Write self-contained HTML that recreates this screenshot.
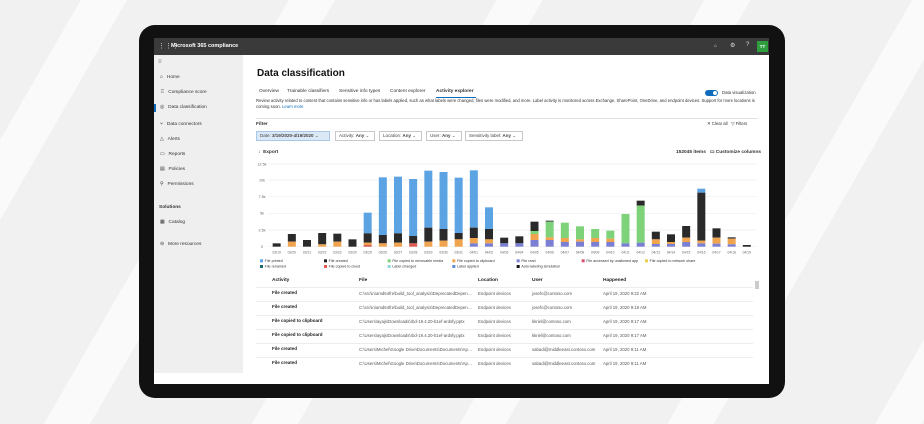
<!DOCTYPE html>
<html><head><meta charset="utf-8"><style>
*{margin:0;padding:0;box-sizing:border-box}
body{width:924px;height:424px;overflow:hidden;position:relative;font-family:"Liberation Sans",sans-serif;
background:repeating-linear-gradient(120deg,#f1f1f1 0 70px,#fafafa 70px 110px,#f1f1f1 110px 180px);}
.a{position:absolute;white-space:nowrap}
.dev{left:139px;top:25px;width:646px;height:373px;background:#111;border-radius:16px}
.scr{left:154px;top:38px;width:615px;height:346px;background:#fff;overflow:hidden}
.top{left:0;top:0;width:615px;height:17px;background:#3a3a3a}
.side{left:0;top:17px;width:89px;height:318px;background:#efefef}
.s{font-size:4.8px;color:#333}
.chip{height:10px;border:1px solid #c8c8c8;font-size:4.5px;line-height:8px;padding-left:3px;color:#444}
.th{font-size:4.8px;color:#222;font-weight:bold}
.td{font-size:4.3px;color:#555}
.fp{width:114px;overflow:hidden;text-overflow:ellipsis}
</style></head><body>
<div class="a dev"></div>
<div class="a scr">
 <div class="a top"></div>
 <div class="a" style="left:4px;top:4px;color:#ddd;font-size:7px">⋮⋮⋮</div>
 <div class="a" style="left:17px;top:5px;color:#fff;font-size:5.5px;font-weight:bold">Microsoft 365 compliance</div>
 <div class="a" style="left:560px;top:5px;color:#ddd;font-size:5px">⌂</div>
 <div class="a" style="left:576px;top:4px;color:#ddd;font-size:6px">⚙</div>
 <div class="a" style="left:592px;top:4px;color:#ddd;font-size:6px">?</div>
 <div class="a" style="left:603px;top:3px;width:11px;height:11px;background:#2e9e3f;color:#fff;font-size:4.5px;font-weight:bold;text-align:center;line-height:11px">TT</div>
 <div class="a side"></div>
 <div class="a s" style="left:4px;top:21px;font-size:6px;color:#777">≡</div>
 <div class="a s" style="left:6px;top:37px">⌂ &nbsp;&nbsp;Home</div>
 <div class="a s" style="left:6px;top:52px">♖ &nbsp;&nbsp;Compliance score</div>
 <div class="a" style="left:0;top:66px;width:1.5px;height:8px;background:#0f6cbd"></div>
 <div class="a s" style="left:6px;top:67px">◎ &nbsp;&nbsp;Data classification</div>
 <div class="a s" style="left:6px;top:83px">⑂ &nbsp;&nbsp;Data connectors</div>
 <div class="a s" style="left:6px;top:99px">△ &nbsp;&nbsp;Alerts</div>
 <div class="a s" style="left:6px;top:114px">▭ &nbsp;&nbsp;Reports</div>
 <div class="a s" style="left:6px;top:129px">▤ &nbsp;&nbsp;Policies</div>
 <div class="a s" style="left:6px;top:144px">⚲ &nbsp;&nbsp;Permissions</div>
 <div class="a s" style="left:5px;top:167px;font-weight:bold">Solutions</div>
 <div class="a s" style="left:6px;top:182px">▦ &nbsp;&nbsp;Catalog</div>
 <div class="a s" style="left:6px;top:204px">⊖ &nbsp;&nbsp;More resources</div>

 <div class="a" style="left:103px;top:30px;font-size:10px;font-weight:bold;color:#111">Data classification</div>
 <div class="a s" style="left:105px;top:51px">Overview</div>
 <div class="a s" style="left:133px;top:51px">Trainable classifiers</div>
 <div class="a s" style="left:185px;top:51px">Sensitive info types</div>
 <div class="a s" style="left:236px;top:51px">Content explorer</div>
 <div class="a s" style="left:282px;top:51px;font-weight:bold">Activity explorer</div>
 <div class="a" style="left:282px;top:59px;width:40px;height:1.2px;background:#0f6cbd"></div>
 <div class="a" style="left:551px;top:52px;width:13px;height:6px;border-radius:3px;background:#0f6cbd"></div>
 <div class="a" style="left:559px;top:53px;width:4px;height:4px;border-radius:2px;background:#fff"></div>
 <div class="a s" style="left:568px;top:52px;font-size:4.3px">Data visualization</div>
 <div class="a" style="left:102px;top:60px;font-size:4.2px;color:#333;line-height:5.5px;width:508px;white-space:normal">Review activity related to content that contains sensitive info or has labels applied, such as what labels were changed, files were modified, and more. Label activity is monitored across Exchange, SharePoint, OneDrive, and endpoint devices. Support for more locations is coming soon. <span style="color:#0f6cbd">Learn more</span></div>
 <div class="a" style="left:102px;top:80px;width:502px;height:1px;background:#e3e3e3"></div>
 <div class="a s" style="left:102px;top:84px;font-weight:bold">Filter</div>
 <div class="a s" style="left:553px;top:83px;font-size:4.3px">✕ Clear all &nbsp;&nbsp;▽ Filters</div>
 <div class="a chip" style="left:102px;top:93px;width:74px;background:#dbe9f7;border-color:#a9c8e8">Date: <b>3/19/2020-4/19/2020</b> ⌄</div>
 <div class="a chip" style="left:181px;top:93px;width:40px">Activity: <b>Any</b> ⌄</div>
 <div class="a chip" style="left:225px;top:93px;width:43px">Location: <b>Any</b> ⌄</div>
 <div class="a chip" style="left:272px;top:93px;width:36px">User: <b>Any</b> ⌄</div>
 <div class="a chip" style="left:311px;top:93px;width:58px">Sensitivity label: <b>Any</b> ⌄</div>
 <div class="a s" style="left:104px;top:112px;font-weight:bold">↓ &nbsp;Export</div>
 <div class="a s" style="left:522px;top:112px;font-weight:bold">152045 items &nbsp;&nbsp;▭ Customize columns</div>

 <div class="a th" style="left:118px;top:240px">Activity</div>
 <div class="a th" style="left:205px;top:240px">File</div>
 <div class="a th" style="left:324px;top:240px">Location</div>
 <div class="a th" style="left:378px;top:240px">User</div>
 <div class="a th" style="left:449px;top:240px">Happened</div>
 <div class="a" style="left:601px;top:243px;width:4px;height:8px;background:#ccc"></div>
</div>

<div class="a" style="left:256px;top:284px">
<div class="a" style="left:0;top:3px;width:497px;height:1px;background:#ececec"></div>
<div class="a th" style="left:16px;top:6px;font-size:4.5px">File created</div><div class="a td fp" style="left:103px;top:7px">C:\src\in\amd64fre\build_tool_analysis\DeprecatedDependencyRe...</div><div class="a td" style="left:222px;top:7px">Endpoint devices</div><div class="a td" style="left:276px;top:7px">josefc@contoso.com</div><div class="a td" style="left:347px;top:7px">April 19, 2020 9:22 AM</div>
<div class="a" style="left:0;top:17px;width:497px;height:1px;background:#ececec"></div>
<div class="a th" style="left:16px;top:20px;font-size:4.5px">File created</div><div class="a td fp" style="left:103px;top:21px">C:\src\in\amd64fre\build_tool_analysis\DeprecatedDependencyRe...</div><div class="a td" style="left:222px;top:21px">Endpoint devices</div><div class="a td" style="left:276px;top:21px">josefc@contoso.com</div><div class="a td" style="left:347px;top:21px">April 19, 2020 9:18 AM</div>
<div class="a" style="left:0;top:31px;width:497px;height:1px;background:#ececec"></div>
<div class="a th" style="left:16px;top:34px;font-size:4.5px">File copied to clipboard</div><div class="a td fp" style="left:103px;top:35px">C:\Users\ayajs\Downloads\rbd-19.4.20-b1ef-ardsfy.pptx</div><div class="a td" style="left:222px;top:35px">Endpoint devices</div><div class="a td" style="left:276px;top:35px">kkriel@contoso.com</div><div class="a td" style="left:347px;top:35px">April 19, 2020 9:17 AM</div>
<div class="a" style="left:0;top:45px;width:497px;height:1px;background:#ececec"></div>
<div class="a th" style="left:16px;top:48px;font-size:4.5px">File copied to clipboard</div><div class="a td fp" style="left:103px;top:49px">C:\Users\ayajs\Downloads\rbd-19.4.20-b1ef-ardsfy.pptx</div><div class="a td" style="left:222px;top:49px">Endpoint devices</div><div class="a td" style="left:276px;top:49px">kkriel@contoso.com</div><div class="a td" style="left:347px;top:49px">April 19, 2020 9:17 AM</div>
<div class="a" style="left:0;top:59px;width:497px;height:1px;background:#ececec"></div>
<div class="a th" style="left:16px;top:62px;font-size:4.5px">File created</div><div class="a td fp" style="left:103px;top:63px">C:\Users\Michel\Google Drive\Documents\Documents\Appartmen...</div><div class="a td" style="left:222px;top:63px">Endpoint devices</div><div class="a td" style="left:276px;top:63px">sabadi@middleeast.contoso.com</div><div class="a td" style="left:347px;top:63px">April 19, 2020 9:11 AM</div>
<div class="a" style="left:0;top:73px;width:497px;height:1px;background:#ececec"></div>
<div class="a th" style="left:16px;top:76px;font-size:4.5px">File created</div><div class="a td fp" style="left:103px;top:77px">C:\Users\Michel\Google Drive\Documents\Documents\Appartmen...</div><div class="a td" style="left:222px;top:77px">Endpoint devices</div><div class="a td" style="left:276px;top:77px">sabadi@middleeast.contoso.com</div><div class="a td" style="left:347px;top:77px">April 19, 2020 9:11 AM</div>
</div>

<svg class="a" style="left:250px;top:150px" width="520" height="120" viewBox="0 0 1560 360" font-family="Liberation Sans, sans-serif">
<g stroke="#eee" stroke-width="2">
<line x1="55" x2="1520" y1="42" y2="42"/><line x1="55" x2="1520" y1="90" y2="90"/><line x1="55" x2="1520" y1="140" y2="140"/><line x1="55" x2="1520" y1="190" y2="190"/><line x1="55" x2="1520" y1="240" y2="240"/><line x1="55" x2="1520" y1="290" y2="290"/></g>
<g font-size="11" fill="#666" text-anchor="middle">
<text x="36" y="46">12.5k</text><text x="36" y="94">10k</text><text x="36" y="144">7.5k</text><text x="36" y="194">5k</text><text x="36" y="244">2.5k</text><text x="36" y="294">0</text></g>
<g id="bars"></g>
<g font-size="10" fill="#666" text-anchor="middle">
<text x="80" y="310">03/19</text><text x="125.5" y="310">03/20</text><text x="171" y="310">03/21</text><text x="216.5" y="310">03/22</text><text x="262" y="310">03/23</text><text x="307.5" y="310">03/24</text><text x="353" y="310">03/25</text><text x="398.5" y="310">03/26</text><text x="444" y="310">03/27</text><text x="489.5" y="310">03/28</text><text x="535" y="310">03/29</text><text x="580.5" y="310">03/30</text><text x="626" y="310">03/31</text><text x="671.5" y="310">04/01</text><text x="717" y="310">04/02</text><text x="762.5" y="310">04/03</text><text x="808" y="310">04/04</text><text x="853.5" y="310">04/05</text><text x="899" y="310">04/06</text><text x="944.5" y="310">04/07</text><text x="990" y="310">04/08</text><text x="1035.5" y="310">04/09</text><text x="1081" y="310">04/10</text><text x="1126.5" y="310">04/11</text><text x="1172" y="310">04/12</text><text x="1217.5" y="310">04/13</text><text x="1263" y="310">04/14</text><text x="1308.5" y="310">04/15</text><text x="1354" y="310">04/16</text><text x="1399.5" y="310">04/17</text><text x="1445" y="310">04/18</text><text x="1490.5" y="310">04/19</text></g>
<g font-size="11" fill="#333">
<rect x="30" y="328" width="9" height="9" fill="#5ba3e3"/><text x="44" y="336">File printed</text>
<rect x="222" y="328" width="9" height="9" fill="#222"/><text x="236" y="336">File created</text>
<rect x="413" y="328" width="9" height="9" fill="#7ed37a"/><text x="427" y="336">File copied to removable media</text>
<rect x="607" y="328" width="9" height="9" fill="#f0a44e"/><text x="621" y="336">File copied to clipboard</text>
<rect x="800" y="328" width="9" height="9" fill="#7b7fd4"/><text x="814" y="336">File read</text>
<rect x="995" y="328" width="9" height="9" fill="#d9506e"/><text x="1009" y="336">File accessed by unallowed app</text>
<rect x="1185" y="328" width="9" height="9" fill="#e8cf4a"/><text x="1199" y="336">File copied to network share</text>
<rect x="30" y="345" width="9" height="9" fill="#1c6a6a"/><text x="44" y="353">File renamed</text>
<rect x="222" y="345" width="9" height="9" fill="#e0594f"/><text x="236" y="353">File copied to cloud</text>
<rect x="413" y="345" width="9" height="9" fill="#8fd9d9"/><text x="427" y="353">Label changed</text>
<rect x="607" y="345" width="9" height="9" fill="#5c8fd6"/><text x="621" y="353">Label applied</text>
<rect x="800" y="345" width="9" height="9" fill="#111"/><text x="814" y="353">Auto-labeling simulation</text>
</g>
</svg>
<script>
var C={b:"#5ba3e3",k:"#2a2a2a",o:"#f0a44e",g:"#7ed37a",p:"#7b7fd4",r:"#e0594f"};
var D=[[["k",280]],[["k",252],["o",275]],[["k",270]],[["k",249],["o",283]],[["k",251],["o",275]],[["k",268]],
[["b",188],["k",250],["o",278],["r",285]],[["b",82],["k",255],["o",280]],[["b",80],["k",250],["o",278]],[["b",87],["k",258],["r",280]],
[["b",62],["k",233],["o",275]],[["b",66],["k",237],["o",272]],[["b",83],["k",249],["o",268]],[["b",61],["k",233],["o",264],["p",280]],
[["b",172],["k",237],["o",268],["p",280]],[["k",263],["p",280]],[["k",259],["p",280]],[["k",215],["g",243],["o",252],["p",270]],
[["k",212],["g",215],["o",262],["p",270]],[["g",218],["o",264],["p",276]],[["g",229],["o",268],["p",275]],[["g",237],["o",264],["p",276]],
[["g",242],["o",266],["p",276]],[["g",192],["p",280]],[["k",152],["g",167],["p",278]],[["k",245],["o",268],["p",282]],
[["k",253],["o",276],["p",282]],[["k",228],["o",263],["p",276]],[["b",116],["k",128],["o",272],["p",280]],[["k",235],["o",263],["p",281]],
[["k",262],["o",266],["p",283]],[["k",285]]];
var s="";D.forEach(function(b,i){var x=80+i*45.5-12;for(var j=0;j<b.length;j++){var t=b[j][1],e=j+1<b.length?b[j+1][1]:290;
s+='<rect x="'+x+'" y="'+t+'" width="24" height="'+(e-t)+'" fill="'+C[b[j][0]]+'"/>';}});
document.getElementById("bars").innerHTML=s;
</script>
</body></html>
